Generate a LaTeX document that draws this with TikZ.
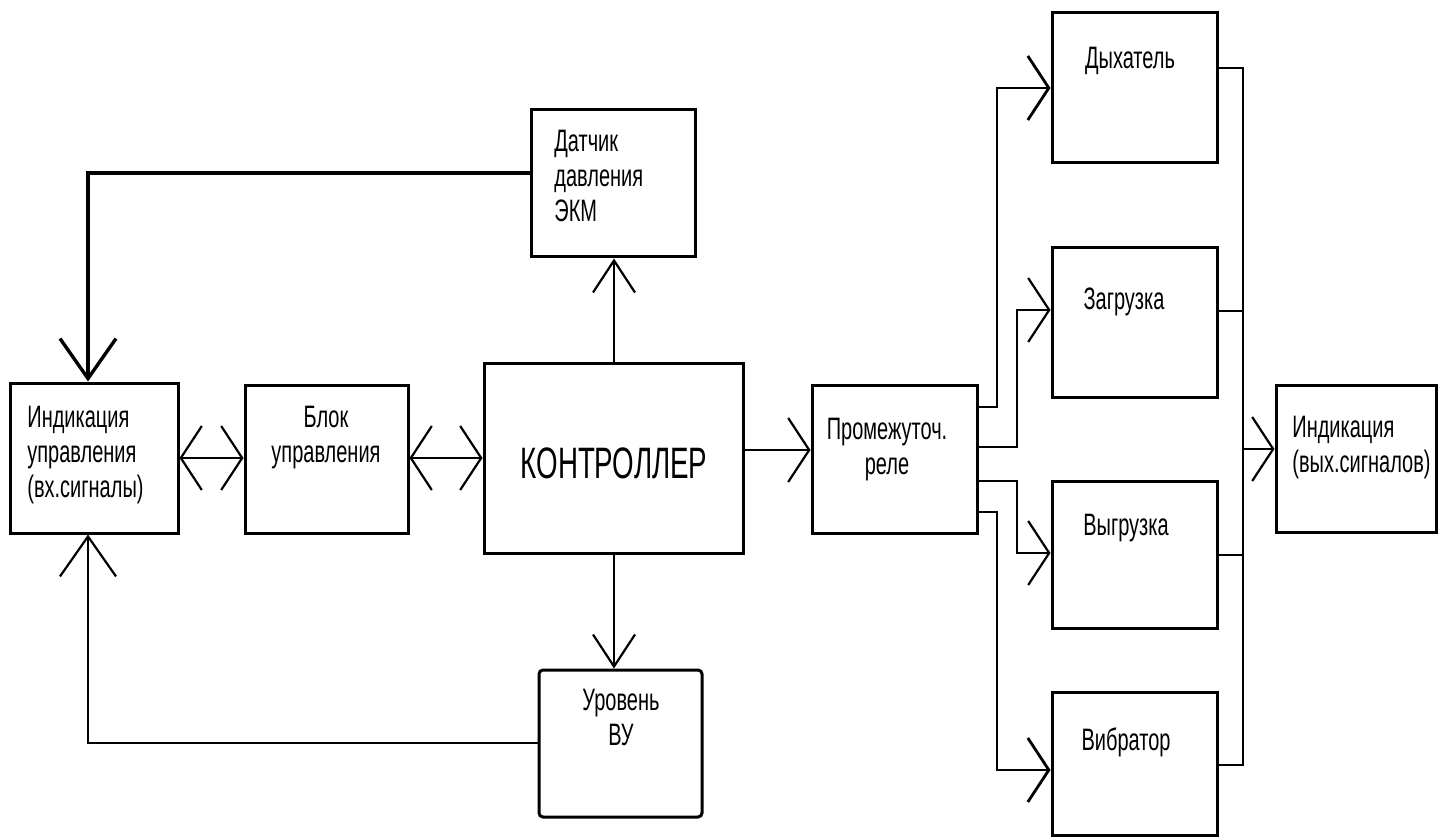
\documentclass[tikz,border=0pt]{standalone}
\usepackage{fontspec}
\newfontfamily\nar[FakeStretch=0.645]{Liberation Sans}
\newfontfamily\narc[FakeStretch=0.63]{Liberation Sans}
\usetikzlibrary{arrows.meta,fit}
\begin{document}
\begin{tikzpicture}[x=0.5pt,y=-0.5pt,
  box/.style={draw, line width=1.5pt, inner sep=0pt},
  lbl/.style={inner sep=0pt, font=\nar\fontsize{15.5}{17.5}\selectfont},
  conn/.style={line width=1.1pt},
  hb/.style={-{Straight Barb[length=10.5pt,width=32pt]}},
  hbb/.style={{Straight Barb[length=10.5pt,width=32pt]}-{Straight Barb[length=10.5pt,width=32pt]}},
  vbig/.style={-{Straight Barb[length=20pt,width=28pt]}},
  vsm/.style={-{Straight Barb[length=16pt,width=21pt]}}
]
\useasboundingbox (0,0) rectangle (1438,839);
\fill[white] (0,0) rectangle (1438,839);

% boxes
\node[box, fit={(10,383) (178,533)}] (ind1) {};
\node[box, fit={(245,385) (408,533)}] (blok) {};
\node[box, fit={(484,363) (743,553)}] (ctrl) {};
\node[box, fit={(531,110) (695,257)}] (dat) {};
\node[box, rounded corners=2pt, fit={(539,670) (702,817)}] (lev) {};
\node[box, fit={(812,385) (977,533)}] (relay) {};
\node[box, fit={(1052,13) (1217,163)}] (dyh) {};
\node[box, fit={(1052,248) (1217,397)}] (zag) {};
\node[box, fit={(1052,481) (1217,628)}] (vyg) {};
\node[box, fit={(1052,692) (1217,835)}] (vib) {};
\node[box, fit={(1276,385) (1436,532)}] (ind2) {};

% texts (anchor base = baseline of the last line)
\node[lbl, anchor=base west, align=left] (tind1) at (27,497) {Индикация\\управления\\(вх.сигналы)};
\node[lbl, anchor=base, align=center] (tblok) at (326,462) {Блок\\управления};
\node[inner sep=0pt, anchor=base, font=\narc\fontsize{22}{26}\selectfont] (tctrl) at (614,478) {КОНТРОЛЛЕР};
\node[lbl, anchor=base west, align=left] (tdat) at (554,222) {Датчик\\давления\\ЭКМ};
\node[lbl, anchor=base, align=center] (tlev) at (621,745) {Уровень\\ВУ};
\node[lbl, anchor=base, align=center] (trelay) at (887,474) {Промежуточ.\\реле};
\node[lbl, anchor=base] (tdyh) at (1130,69) {Дыхатель};
\node[lbl, anchor=base] (tzag) at (1124,310) {Загрузка};
\node[lbl, anchor=base] (tvyg) at (1126,535) {Выгрузка};
\node[lbl, anchor=base] (tvib) at (1126,750) {Вибратор};
\node[lbl, anchor=base west, align=left] (tind2) at (1292,472) {Индикация\\(вых.сигналов)};

% helper coordinates
\coordinate (c1) at (88,173);
\coordinate (c2) at (88,743);
\coordinate (ya) at (0,458);
\coordinate (yb) at (0,450);
\coordinate (xm) at (614,0);
\coordinate (b1) at (997,407);
\coordinate (t1) at (997,88);
\coordinate (b2) at (1017,447);
\coordinate (t2) at (1017,310);
\coordinate (b3) at (1017,481);
\coordinate (t3) at (1017,553);
\coordinate (b4) at (997,512);
\coordinate (t4) at (997,770);
\coordinate (bt) at (1243,68);
\coordinate (bb) at (1243,765);
\coordinate (bz) at (1243,311);
\coordinate (bv) at (1243,555);
\coordinate (bo) at (1243,449);

% left feedback lines
\draw[conn, line width=1.7pt, vbig] (c1 -| dat.west) -- (c1) -- (c1 |- ind1.north);
\draw[conn, vbig] (c2 -| lev.west) -- (c2) -- (c2 |- ind1.south);

% horizontal links
\draw[conn, hbb] (ind1.east |- ya) -- (blok.west |- ya);
\draw[conn, hbb] (blok.east |- ya) -- (ctrl.west |- ya);
\draw[conn, hb] (ctrl.east |- yb) -- (relay.west |- yb);

% controller up / down
\draw[conn, vsm] (xm |- ctrl.north) -- (xm |- dat.south);
\draw[conn, vsm] (xm |- ctrl.south) -- (xm |- lev.north);

% relay outputs
\draw[conn, line width=1.4pt, hb] (relay.east |- b1) -- (b1) -- (t1) -- (t1 -| dyh.west);
\draw[conn, hb] (relay.east |- b2) -- (b2) -- (t2) -- (t2 -| zag.west);
\draw[conn, hb] (relay.east |- b3) -- (b3) -- (t3) -- (t3 -| vyg.west);
\draw[conn, line width=1.4pt, hb] (relay.east |- b4) -- (b4) -- (t4) -- (t4 -| vib.west);

% outputs to bus
\draw[conn] (dyh.east |- bt) -- (bt) -- (bb) -- (bb -| vib.east);
\draw[conn] (zag.east |- bz) -- (bz);
\draw[conn] (vyg.east |- bv) -- (bv);
\draw[conn, hb] (bo) -- (ind2.west |- bo);
\end{tikzpicture}
\end{document}
